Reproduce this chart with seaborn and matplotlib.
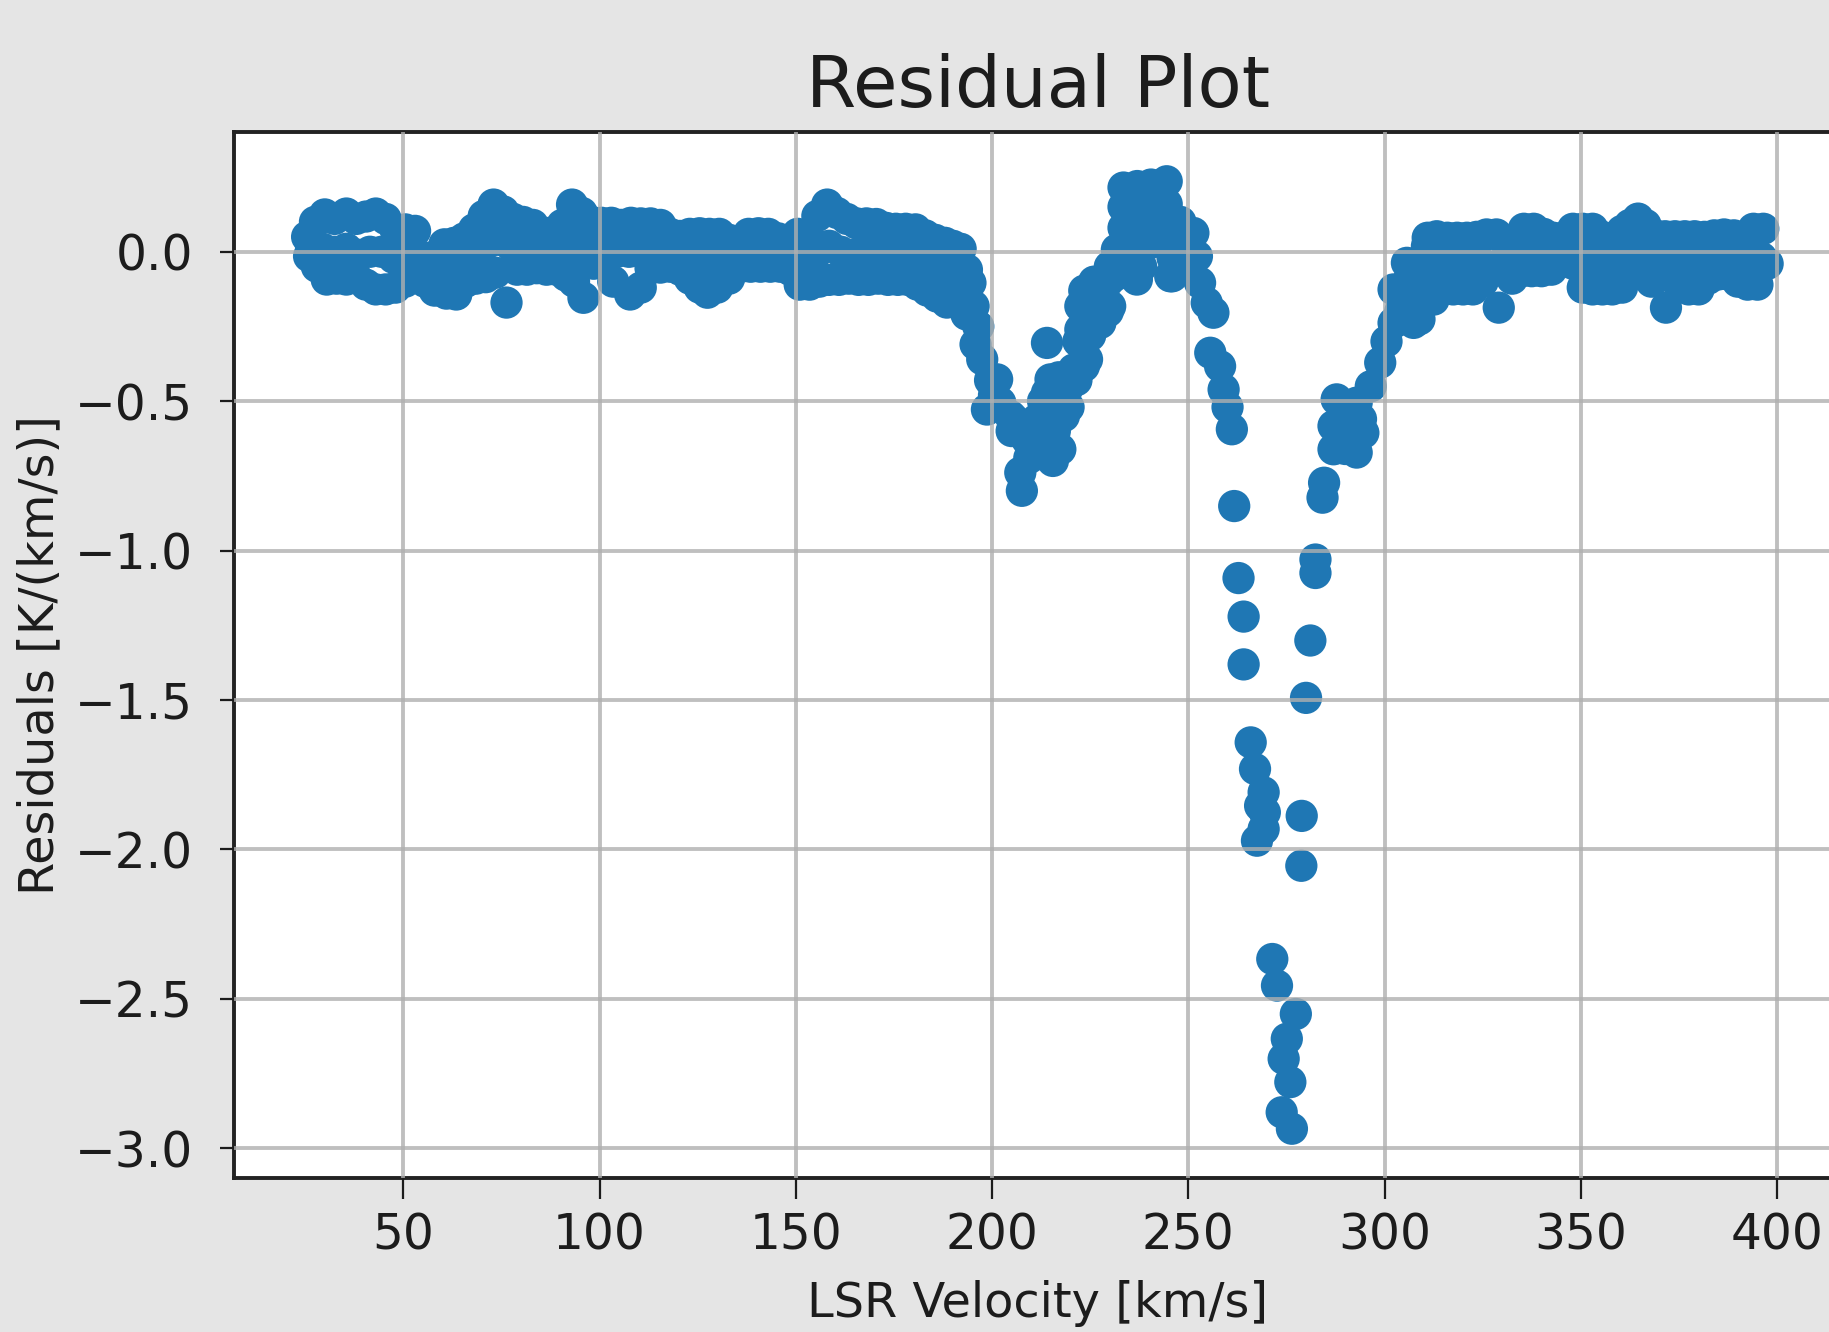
import numpy as np
import pandas as pd
import matplotlib
matplotlib.use("Agg")
import matplotlib.pyplot as plt
import seaborn as sns

# --- flat baseline, low velocities: upper edge, lower edge, core of the noise band
left_top_v = [25.5, 27.5, 30.0, 32.5, 35.5, 38.0, 40.5, 43.0, 45.5, 48.0, 50.5, 53.0, 55.5, 58.0,
              60.5, 63.0, 65.5, 68.0, 70.5, 73.0, 75.5, 78.0, 80.5, 83.0, 85.5, 88.0, 90.5, 93.0,
              95.5, 98.0, 100.5, 103.0, 105.5, 108.0, 110.5, 113.0, 115.5, 118.0, 120.5, 123.0,
              125.5, 128.0, 130.5, 133.0, 135.5, 138.0, 140.5, 143.0, 145.5, 148.0, 150.5, 153.0,
              155.5, 158.0, 160.5, 163.0, 165.5, 168.0, 170.5, 173.0, 175.5, 178.0, 180.5, 183.0,
              185.5, 188.0, 190.0]
left_top_r = [0.05, 0.10, 0.125, 0.11, 0.128, 0.11, 0.118, 0.128, 0.11, 0.075, 0.075, 0.07, -0.02, -0.015,
              0.025, 0.03, 0.045, 0.075, 0.12, 0.158, 0.135, 0.11, 0.10, 0.09, 0.065, 0.065, 0.09, 0.158,
              0.13, 0.10, 0.097, 0.097, 0.09, 0.097, 0.095, 0.095, 0.09, 0.06, 0.053, 0.06,
              0.062, 0.06, 0.06, 0.04, 0.036, 0.06, 0.062, 0.06, 0.045, 0.03, 0.06, 0.06,
              0.12, 0.158, 0.13, 0.11, 0.095, 0.095, 0.093, 0.08, 0.077, 0.077, 0.075, 0.055,
              0.04, 0.03, 0.02]

left_bot_v = [26.0, 28.0, 30.5, 33.0, 35.5, 38.0, 40.5, 43.0, 45.5, 48.0, 50.5, 53.0, 55.5, 58.0,
              61.0, 63.5, 66.0, 68.5, 71.0, 73.5, 76.3, 79.0, 81.5, 84.0, 86.5, 89.0, 91.5, 93.5,
              95.9, 98.5, 101.0, 103.5, 107.8, 110.5, 113.0, 115.5, 118.0, 120.5, 123.0, 125.5,
              127.5, 130.0, 133.0, 136.0, 138.5, 141.0, 143.5, 146.0, 148.5, 151.0, 153.5, 156.0,
              158.5, 161.0, 163.5, 166.0, 168.5, 171.0, 173.5, 176.0, 178.5, 181.0, 183.5, 186.0,
              188.5]
left_bot_r = [-0.015, -0.05, -0.093, -0.09, -0.093, -0.085, -0.11, -0.126, -0.126, -0.12, -0.10, -0.08, -0.10, -0.13,
              -0.14, -0.143, -0.10, -0.09, -0.085, -0.07, -0.17, -0.06, -0.06, -0.055, -0.06, -0.06, -0.08, -0.10,
              -0.154, -0.04, -0.04, -0.10, -0.143, -0.12, -0.055, -0.053, -0.05, -0.06, -0.09, -0.12,
              -0.137, -0.12, -0.09, -0.05, -0.05, -0.05, -0.05, -0.05, -0.06, -0.11, -0.11, -0.10,
              -0.094, -0.094, -0.09, -0.094, -0.094, -0.09, -0.094, -0.094, -0.094, -0.11, -0.13, -0.15,
              -0.17]

left_mid_v = [26.5, 29.5, 32.5, 35.5, 38.5, 41.5, 44.5, 47.5, 50.5, 53.5, 56.5, 59.5, 62.5, 65.5,
              68.5, 71.5, 74.5, 77.5, 80.5, 83.5, 86.5, 89.5, 92.5, 95.5, 98.5, 101.5, 104.5, 107.5,
              110.5, 113.5, 116.5, 119.5, 122.5, 125.5, 128.5, 131.5, 134.5, 137.5, 140.5, 143.5,
              146.5, 149.5, 152.5, 155.5, 158.5, 161.5, 164.5, 167.5, 170.5, 173.5, 176.5, 179.5,
              182.5, 185.5, 188.5]
left_mid_r = [0.02, 0.01, 0.0, 0.01, -0.01, 0.0, 0.0, -0.02, -0.01, -0.02, -0.06, -0.05, -0.04, -0.03,
              0.0, 0.03, 0.04, 0.02, 0.01, 0.0, 0.0, 0.0, 0.03, 0.0, 0.02, 0.02, 0.0, 0.0,
              0.0, 0.02, 0.02, 0.0, 0.0, -0.02, -0.03, -0.01, 0.0, 0.0, 0.0, 0.0,
              -0.01, -0.02, -0.02, 0.0, 0.02, 0.0, -0.01, 0.0, 0.0, -0.01, -0.01, -0.01,
              -0.03, -0.05, -0.07]

# --- first absorption dip and the positive bump near 240 km/s
dip1_v = [190.5, 191.0, 192.0, 192.5, 193.6, 194.5, 195.3, 193.5, 195.8, 196.5, 197.5, 199.5,
          201.3, 202.1, 198.7, 200.5, 204.7, 205.5, 206.5, 211.5, 218.3, 214.9, 212.3, 217.4,
          209.5, 207.2, 207.6, 214.0, 214.9, 214.0, 219.1, 223.4, 220.8, 213.0, 217.5,
          222.5, 222.5, 227.6, 227.6, 230.1, 231.0, 225.0, 232.7, 236.9, 245.9,
          233.5, 233.5, 233.5, 237.0, 237.0, 237.0, 237.0, 240.5, 240.5, 240.5, 240.5,
          244.5, 244.5, 244.5, 244.5, 231.8, 248.0, 250.5,
          205.0, 209.0, 212.5, 216.0, 219.5, 221.5, 217.0, 211.0, 215.5, 222.0, 224.2,
          223.5, 226.0, 229.5, 226.0, 229.5, 225.0, 234.5, 238.0, 230.0, 247.0, 246.0]
dip1_r = [-0.12, -0.05, 0.01, -0.12, -0.06, -0.104, -0.182, -0.21, -0.31, -0.25, -0.36, -0.43,
          -0.427, -0.505, -0.528, -0.48, -0.55, -0.561, -0.594, -0.561, -0.55, -0.54, -0.672, -0.661,
          -0.69, -0.739, -0.80, -0.305, -0.427, -0.472, -0.46, -0.383, -0.394, -0.50, -0.48,
          -0.182, -0.26, -0.238, -0.126, -0.182, -0.082, -0.14, -0.06, -0.093, -0.082,
          0.215, 0.15, 0.08, 0.22, 0.15, 0.08, 0.01, 0.225, 0.15, 0.08, 0.03,
          0.236, 0.16, 0.09, 0.04, 0.007, 0.10, 0.063,
          -0.60, -0.63, -0.60, -0.60, -0.52, -0.43, -0.42, -0.66, -0.70, -0.30, -0.36,
          -0.13, -0.10, -0.10, -0.22, -0.20, -0.28, -0.04, -0.05, -0.05, -0.03, -0.02]

# --- deep absorption: descending branch, bottom, rising branch
dip2_v = [251.3, 252.2, 245.4, 248.0, 253.0, 254.7, 256.4, 255.6, 258.1, 259.0, 260.0, 261.1,
          261.7, 262.8, 264.1, 264.1, 265.9, 267.0, 269.2, 268.3, 269.2, 267.5, 269.5,
          271.4, 272.6, 277.4, 275.1, 274.3, 276.0, 273.8, 276.4,
          278.9, 278.8, 280.0, 281.1, 282.4, 282.4, 284.2, 284.6,
          287.0, 287.0, 287.8, 292.9, 292.9, 294.6, 290.0, 298.9, 296.5,
          302.3, 302.3, 307.4, 305.7, 310.8, 313.3, 312.5, 308.2, 310.8, 300.5, 304.5, 308.9, 306.0,
          290.0, 290.0, 294.0, 289.0, 304.0, 306.0, 309.5, 311.5]
dip2_r = [0.063, -0.015, -0.082, -0.04, -0.104, -0.171, -0.204, -0.338, -0.383, -0.461, -0.52, -0.594,
          -0.851, -1.092, -1.221, -1.381, -1.642, -1.731, -1.809, -1.854, -1.932, -1.971, -1.876,
          -2.367, -2.456, -2.551, -2.634, -2.701, -2.779, -2.88, -2.935,
          -1.888, -2.055, -1.493, -1.301, -1.03, -1.075, -0.823, -0.773,
          -0.583, -0.661, -0.494, -0.505, -0.672, -0.606, -0.60, -0.371, -0.45,
          -0.126, -0.238, -0.238, -0.037, 0.019, 0.052, -0.16, -0.137, -0.07, -0.30, -0.12, -0.226, -0.20,
          -0.52, -0.66, -0.56, -0.60, -0.20, -0.10, -0.18, -0.05]

# --- flat baseline, high velocities
right_top_v = [311.0, 313.5, 316.0, 318.5, 321.0, 323.5, 326.0, 328.5, 331.0, 333.0, 335.5, 338.0,
               340.5, 343.0, 345.5, 348.0, 350.5, 353.0, 355.5, 358.0, 360.5, 362.5, 364.6, 366.5,
               369.0, 371.5, 374.0, 376.5, 379.0, 381.5, 384.0, 386.5, 389.0, 391.5, 394.0, 396.5]
right_top_r = [0.047, 0.047, 0.047, 0.047, 0.047, 0.05, 0.058, 0.058, 0.03, 0.01, 0.077, 0.077,
               0.06, 0.047, 0.047, 0.077, 0.077, 0.077, 0.05, 0.047, 0.07, 0.09, 0.111, 0.09,
               0.055, 0.052, 0.052, 0.052, 0.052, 0.05, 0.055, 0.058, 0.055, 0.03, 0.077, 0.077]

right_bot_v = [315.0, 317.5, 320.0, 322.5, 325.0, 329.1, 332.5, 335.0, 337.5, 340.0, 342.5, 345.5,
               348.0, 350.5, 353.0, 355.5, 358.0, 360.5, 363.0, 365.5, 368.0, 371.7, 375.0, 377.5,
               380.0, 382.5, 385.0, 387.5, 390.0, 392.5, 395.0, 397.6]
right_bot_r = [-0.12, -0.126, -0.126, -0.126, -0.10, -0.187, -0.09, -0.065, -0.065, -0.065, -0.06, -0.015,
               -0.04, -0.12, -0.126, -0.126, -0.126, -0.12, -0.065, -0.065, -0.10, -0.187, -0.11, -0.126,
               -0.126, -0.09, -0.076, -0.076, -0.10, -0.11, -0.11, -0.04]

right_mid_v = [312.0, 315.0, 318.0, 321.0, 324.0, 327.0, 330.0, 333.0, 336.0, 339.0, 342.0, 345.0,
               348.0, 351.0, 354.0, 357.0, 360.0, 363.0, 366.0, 369.0, 372.0, 375.0, 378.0, 381.0,
               384.0, 387.0, 390.0, 393.0, 396.0]
right_mid_r = [-0.04, -0.03, -0.03, -0.04, -0.03, -0.05, -0.06, -0.03, 0.0, 0.0, 0.0, 0.0,
               0.0, -0.02, -0.03, -0.03, -0.03, 0.0, 0.0, -0.03, -0.05, -0.03, -0.03, -0.02,
               0.0, 0.0, -0.02, -0.03, -0.02]

vel = (left_top_v + left_bot_v + left_mid_v + dip1_v + dip2_v
       + right_top_v + right_bot_v + right_mid_v)
res = (left_top_r + left_bot_r + left_mid_r + dip1_r + dip2_r
       + right_top_r + right_bot_r + right_mid_r)
df = pd.DataFrame({"vel": vel, "res": res})

plt.rcParams["font.family"] = ["DejaVu Sans"]
text_color = "#1c1c1c"

fig = plt.figure(figsize=(18.29, 13.32), dpi=100, facecolor="#e5e5e5")
ax = fig.add_axes([0.128, 0.1156, 0.879, 0.7851])
ax.set_facecolor("white")

sns.scatterplot(data=df, x="vel", y="res", ax=ax, s=540, color="#1f77b4",
                linewidth=0, edgecolor="none", zorder=1)

ax.set_xlim(6.9, 416.5)
ax.set_ylim(-3.1, 0.4)
ax.set_xticks([50, 100, 150, 200, 250, 300, 350, 400])
ax.set_yticks([-3.0, -2.5, -2.0, -1.5, -1.0, -0.5, 0.0])
ax.set_yticklabels(["\u22123.0", "\u22122.5", "\u22122.0", "\u22121.5", "\u22121.0", "\u22120.5", "0.0"])

ax.grid(True, color="#b0b0b0", alpha=0.8, linewidth=2.8, zorder=1.5)
ax.set_axisbelow(False)
for sp in ax.spines.values():
    sp.set_linewidth(2.8)
    sp.set_color("#222222")

ax.tick_params(axis="x", length=15, width=1.6, pad=9, labelsize=35, colors=text_color)
ax.tick_params(axis="y", length=10, width=1.6, pad=19.5, labelsize=35, colors=text_color)

ax.set_title("Residual Plot", fontsize=52, pad=18, color=text_color)
ax.set_xlabel("LSR Velocity [km/s]", fontsize=34.5, labelpad=15, color=text_color)
ax.set_ylabel("Residuals [K/(km/s)]", fontsize=34.5, labelpad=8, color=text_color)

fig.savefig("out.png", dpi=100, facecolor=fig.get_facecolor())
